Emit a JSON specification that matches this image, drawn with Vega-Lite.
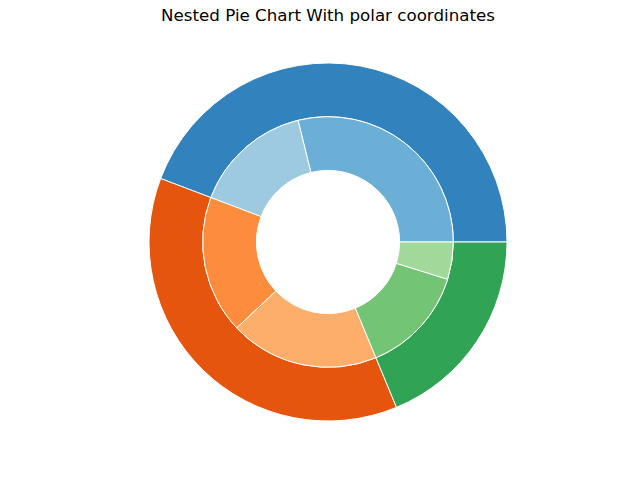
{
  "$schema": "https://vega.github.io/schema/vega-lite/v6.json",
  "autosize": "none",
  "width": 656,
  "height": 424,
  "padding": {"left": 0, "top": 30, "right": 0, "bottom": 0},
  "background": "white",
  "title": {"text": "Nested Pie Chart With polar coordinates", "font": "DejaVu Sans", "fontSize": 16.7, "fontWeight": "normal", "color": "black", "offset": 5},
  "view": {"stroke": null},
  "layer": [
    {
      "data": {"values": [
        {"group": "A", "idx": 0, "value": 92},
        {"group": "B", "idx": 1, "value": 77},
        {"group": "C", "idx": 2, "value": 39}
      ]},
      "mark": {"type": "arc", "radius": 179, "radius2": 125.3, "stroke": "white", "strokeWidth": 1},
      "encoding": {
        "theta": {"field": "value", "type": "quantitative", "stack": true, "scale": {"range": [1.5707963, -4.712389]}},
        "order": {"field": "idx", "type": "quantitative"},
        "color": {"field": "group", "type": "nominal", "legend": null, "scale": {"domain": ["A", "B", "C"], "range": ["#3182bd", "#e6550d", "#31a354"]}}
      }
    },
    {
      "data": {"values": [
        {"sub": "A1", "idx": 0, "value": 60},
        {"sub": "A2", "idx": 1, "value": 32},
        {"sub": "B1", "idx": 2, "value": 37},
        {"sub": "B2", "idx": 3, "value": 40},
        {"sub": "C1", "idx": 4, "value": 29},
        {"sub": "C2", "idx": 5, "value": 10}
      ]},
      "mark": {"type": "arc", "radius": 125.3, "radius2": 71.6, "stroke": "white", "strokeWidth": 1},
      "encoding": {
        "theta": {"field": "value", "type": "quantitative", "stack": true, "scale": {"range": [1.5707963, -4.712389]}},
        "order": {"field": "idx", "type": "quantitative"},
        "color": {"field": "sub", "type": "nominal", "legend": null, "scale": {"domain": ["A1", "A2", "B1", "B2", "C1", "C2"], "range": ["#6baed6", "#9ecae1", "#fd8d3c", "#fdae6b", "#74c476", "#a1d99b"]}}
      }
    }
  ],
  "resolve": {"scale": {"color": "independent", "theta": "independent"}}
}
